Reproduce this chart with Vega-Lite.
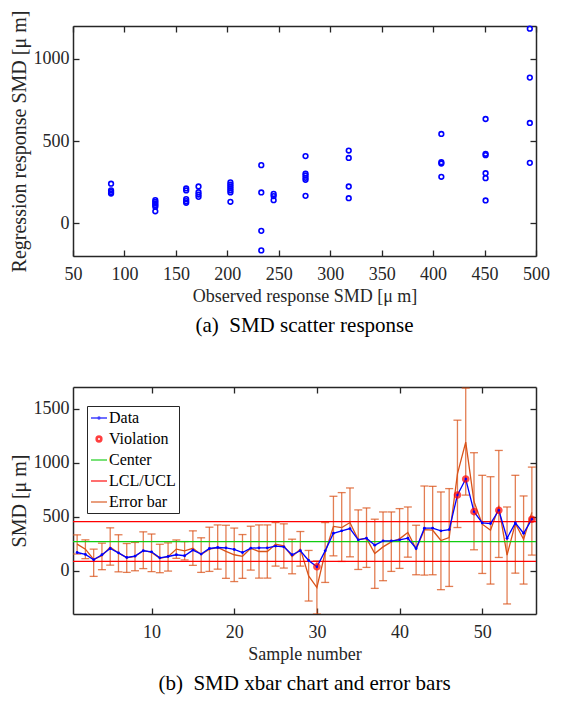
{
  "$schema": "https://vega.github.io/schema/vega-lite/v6.json",
  "padding": {"left": 8, "top": 10, "right": 5, "bottom": 5},
  "spacing": 50,
  "config": {
    "font": "Liberation Serif",
    "view": {"stroke": null},
    "style": {
      "guide-label": {"font": "Liberation Serif"},
      "guide-title": {"font": "Liberation Serif"},
      "group-title": {"font": "Liberation Serif"}
    },
    "axis": {
      "labelFont": "Liberation Serif", "labelFontSize": 18, "labelColor": "#262626", "format": "d",
      "titleFont": "Liberation Serif", "titleFontSize": 19, "titleFontWeight": "normal", "titleColor": "#262626",
      "domainColor": "#262626", "domainWidth": 1.5, "tickColor": "#262626", "tickWidth": 1.3,
      "tickSize": -6, "labelPadding": 10, "grid": false, "labelFlush": false
    },
    "axisBottom": {"labelPadding": 15, "titleFontSize": 18, "titlePadding": 4},
    "axisLeft": {"titleFontSize": 20},
    "legend": {"labelFont": "Liberation Serif"},
    "title": {"font": "Liberation Serif", "fontSize": 21, "fontWeight": "normal", "color": "#000000"}
  },
  "vconcat": [
    {
      "width": 463, "height": 230,
      "title": {"text": "(a)\u00a0\u00a0SMD scatter response", "orient": "bottom", "offset": 10},
      "data": {"values": [
        {"obs": 87, "reg": 240}, {"obs": 87, "reg": 200}, {"obs": 87, "reg": 190}, {"obs": 87, "reg": 180},
        {"obs": 130, "reg": 140}, {"obs": 130, "reg": 130}, {"obs": 130, "reg": 120}, {"obs": 130, "reg": 110}, {"obs": 130, "reg": 100}, {"obs": 130, "reg": 72},
        {"obs": 160, "reg": 211}, {"obs": 160, "reg": 199}, {"obs": 160, "reg": 146}, {"obs": 160, "reg": 134}, {"obs": 160, "reg": 124},
        {"obs": 172, "reg": 223}, {"obs": 172, "reg": 188}, {"obs": 172, "reg": 174}, {"obs": 172, "reg": 160},
        {"obs": 203, "reg": 248}, {"obs": 203, "reg": 235}, {"obs": 203, "reg": 223}, {"obs": 203, "reg": 211}, {"obs": 203, "reg": 199}, {"obs": 203, "reg": 187}, {"obs": 203, "reg": 130},
        {"obs": 233, "reg": 353}, {"obs": 233, "reg": 187}, {"obs": 233, "reg": -47}, {"obs": 233, "reg": -166},
        {"obs": 245, "reg": 178}, {"obs": 245, "reg": 165}, {"obs": 245, "reg": 140},
        {"obs": 276, "reg": 408}, {"obs": 276, "reg": 302}, {"obs": 276, "reg": 290}, {"obs": 276, "reg": 276}, {"obs": 276, "reg": 264}, {"obs": 276, "reg": 166},
        {"obs": 318, "reg": 442}, {"obs": 318, "reg": 397}, {"obs": 318, "reg": 223}, {"obs": 318, "reg": 152},
        {"obs": 408, "reg": 543}, {"obs": 408, "reg": 371}, {"obs": 408, "reg": 363}, {"obs": 408, "reg": 282},
        {"obs": 451, "reg": 634}, {"obs": 451, "reg": 422}, {"obs": 451, "reg": 414}, {"obs": 451, "reg": 304}, {"obs": 451, "reg": 274}, {"obs": 451, "reg": 138},
        {"obs": 494, "reg": 1184}, {"obs": 494, "reg": 886}, {"obs": 494, "reg": 610}, {"obs": 494, "reg": 367}
      ]},
      "layer": [
        {
          "mark": {"type": "point", "shape": "circle", "filled": false, "color": "#0000FF", "size": 22, "strokeWidth": 1.6, "opacity": 1},
          "encoding": {
            "x": {"field": "obs", "type": "quantitative", "scale": {"domain": [50, 500], "nice": false, "zero": false},
                  "axis": {"orient": "bottom", "values": [50, 100, 150, 200, 250, 300, 350, 400, 450, 500], "title": "Observed response SMD [μ m]"}},
            "y": {"field": "reg", "type": "quantitative", "scale": {"domain": [-200, 1200], "nice": false, "zero": false},
                  "axis": {"orient": "left", "values": [0, 500, 1000], "title": "Regression response SMD [μ m]"}}
          }
        },
        {
          "mark": {"type": "point", "opacity": 0},
          "encoding": {
            "x": {"field": "obs", "type": "quantitative", "axis": {"orient": "top", "values": [50, 100, 150, 200, 250, 300, 350, 400, 450, 500], "labels": false, "title": null}},
            "y": {"field": "reg", "type": "quantitative", "axis": {"orient": "right", "values": [0, 500, 1000], "labels": false, "title": null}}
          }
        }
      ],
      "resolve": {"axis": {"x": "independent", "y": "independent"}}
    },
    {
      "width": 463, "height": 227,
      "title": {"text": "(b)\u00a0\u00a0SMD xbar chart and error bars", "orient": "bottom", "offset": 10},
      "data": {"values": [
        {"n": 1, "data": 169, "eb": 246, "lo": 155, "hi": 332, "viol": false},
        {"n": 2, "data": 151, "eb": 200, "lo": 112, "hi": 286, "viol": false},
        {"n": 3, "data": 102, "eb": 105, "lo": -52, "hi": 200, "viol": false},
        {"n": 4, "data": 148, "eb": 140, "lo": 10, "hi": 255, "viol": false},
        {"n": 5, "data": 206, "eb": 218, "lo": 52, "hi": 397, "viol": false},
        {"n": 6, "data": 166, "eb": 165, "lo": -10, "hi": 333, "viol": false},
        {"n": 7, "data": 123, "eb": 120, "lo": -15, "hi": 252, "viol": false},
        {"n": 8, "data": 135, "eb": 132, "lo": 0, "hi": 262, "viol": false},
        {"n": 9, "data": 185, "eb": 188, "lo": 20, "hi": 360, "viol": false},
        {"n": 10, "data": 175, "eb": 170, "lo": -8, "hi": 340, "viol": false},
        {"n": 11, "data": 120, "eb": 115, "lo": -18, "hi": 245, "viol": false},
        {"n": 12, "data": 132, "eb": 130, "lo": -3, "hi": 258, "viol": false},
        {"n": 13, "data": 148, "eb": 200, "lo": 115, "hi": 285, "viol": false},
        {"n": 14, "data": 139, "eb": 185, "lo": 100, "hi": 270, "viol": false},
        {"n": 15, "data": 191, "eb": 208, "lo": 50, "hi": 369, "viol": false},
        {"n": 16, "data": 154, "eb": 150, "lo": -15, "hi": 305, "viol": false},
        {"n": 17, "data": 206, "eb": 200, "lo": -6, "hi": 403, "viol": false},
        {"n": 18, "data": 215, "eb": 215, "lo": 15, "hi": 424, "viol": false},
        {"n": 19, "data": 212, "eb": 180, "lo": -70, "hi": 421, "viol": false},
        {"n": 20, "data": 197, "eb": 148, "lo": -100, "hi": 395, "viol": false},
        {"n": 21, "data": 169, "eb": 134, "lo": -70, "hi": 335, "viol": false},
        {"n": 22, "data": 209, "eb": 208, "lo": 6, "hi": 412, "viol": false},
        {"n": 23, "data": 212, "eb": 178, "lo": -68, "hi": 424, "viol": false},
        {"n": 24, "data": 212, "eb": 178, "lo": -68, "hi": 424, "viol": false},
        {"n": 25, "data": 228, "eb": 245, "lo": 43, "hi": 446, "viol": false},
        {"n": 26, "data": 221, "eb": 230, "lo": 25, "hi": 434, "viol": false},
        {"n": 27, "data": 148, "eb": 132, "lo": -28, "hi": 292, "viol": false},
        {"n": 28, "data": 185, "eb": 200, "lo": 43, "hi": 363, "viol": false},
        {"n": 29, "data": 95, "eb": -47, "lo": -280, "hi": 188, "viol": false},
        {"n": 30, "data": 37, "eb": -155, "lo": -400, "hi": 90, "viol": true},
        {"n": 31, "data": 184, "eb": 169, "lo": -108, "hi": 446, "viol": false},
        {"n": 32, "data": 347, "eb": 410, "lo": 138, "hi": 689, "viol": false},
        {"n": 33, "data": 369, "eb": 400, "lo": 86, "hi": 723, "viol": false},
        {"n": 34, "data": 390, "eb": 446, "lo": 129, "hi": 766, "viol": false},
        {"n": 35, "data": 286, "eb": 287, "lo": 12, "hi": 563, "viol": false},
        {"n": 36, "data": 301, "eb": 300, "lo": 31, "hi": 581, "viol": false},
        {"n": 37, "data": 237, "eb": 160, "lo": -163, "hi": 477, "viol": false},
        {"n": 38, "data": 277, "eb": 221, "lo": -92, "hi": 544, "viol": false},
        {"n": 39, "data": 277, "eb": 267, "lo": -6, "hi": 544, "viol": false},
        {"n": 40, "data": 286, "eb": 295, "lo": 22, "hi": 575, "viol": false},
        {"n": 41, "data": 301, "eb": 355, "lo": 126, "hi": 590, "viol": false},
        {"n": 42, "data": 206, "eb": 200, "lo": -37, "hi": 421, "viol": false},
        {"n": 43, "data": 394, "eb": 380, "lo": -40, "hi": 784, "viol": false},
        {"n": 44, "data": 394, "eb": 375, "lo": -37, "hi": 781, "viol": false},
        {"n": 45, "data": 369, "eb": 280, "lo": -175, "hi": 729, "viol": false},
        {"n": 46, "data": 381, "eb": 307, "lo": -145, "hi": 760, "viol": false},
        {"n": 47, "data": 701, "eb": 897, "lo": 400, "hi": 1393, "viol": true},
        {"n": 48, "data": 849, "eb": 1190, "lo": 700, "hi": 1690, "viol": true},
        {"n": 49, "data": 547, "eb": 640, "lo": 194, "hi": 1092, "viol": true},
        {"n": 50, "data": 443, "eb": 431, "lo": -25, "hi": 883, "viol": false},
        {"n": 51, "data": 437, "eb": 375, "lo": -123, "hi": 870, "viol": false},
        {"n": 52, "data": 560, "eb": 590, "lo": 123, "hi": 1113, "viol": true},
        {"n": 53, "data": 301, "eb": 145, "lo": -307, "hi": 590, "viol": false},
        {"n": 54, "data": 443, "eb": 437, "lo": -22, "hi": 883, "viol": false},
        {"n": 55, "data": 347, "eb": 290, "lo": -123, "hi": 692, "viol": false},
        {"n": 56, "data": 477, "eb": 540, "lo": 145, "hi": 959, "viol": true}
      ]},
      "layer": [
        {
          "encoding": {
            "x": {"field": "n", "type": "quantitative", "scale": {"domain": [0.5, 56.5], "nice": false, "zero": false},
                  "axis": {"orient": "bottom", "values": [10, 20, 30, 40, 50], "title": "Sample number"}}
          },
          "layer": [
            {
              "mark": {"type": "rule", "strokeWidth": 1.3, "opacity": 0.75, "clip": true},
              "encoding": {
                "y": {"field": "lo", "type": "quantitative", "scale": {"domain": [-400, 1700], "nice": false, "zero": false},
                      "axis": {"orient": "left", "values": [0, 500, 1000, 1500], "title": "SMD [μ m]"}},
                "y2": {"field": "hi"},
                "color": {"datum": "Error bar", "type": "nominal",
                          "scale": {"domain": ["Data", "Violation", "Center", "LCL/UCL", "Error bar"], "range": ["#0000FF", "#FF0000", "#11CC11", "#FF0000", "#D95319"]},
                          "legend": {
                            "title": null, "orient": "none", "legendX": 14, "legendY": 380, "direction": "vertical",
                            "strokeColor": "#262626", "fillColor": "#FFFFFF", "padding": 3, "rowPadding": 4,
                            "labelFont": "Liberation Serif", "labelFontSize": 16, "labelColor": "#000000", "labelOffset": 1,
                            "symbolSize": 256, "symbolStrokeWidth": 1.5, "symbolFillColor": "transparent"
                          }}
              }
            },
            {
              "mark": {"type": "tick", "orient": "horizontal", "size": 8, "thickness": 1.3, "opacity": 0.75, "clip": true},
              "encoding": {"y": {"field": "hi", "type": "quantitative"}, "color": {"datum": "Error bar", "type": "nominal", "legend": null}}
            },
            {
              "mark": {"type": "tick", "orient": "horizontal", "size": 8, "thickness": 1.3, "opacity": 0.75, "clip": true},
              "encoding": {"y": {"field": "lo", "type": "quantitative"}, "color": {"datum": "Error bar", "type": "nominal", "legend": null}}
            },
            {
              "mark": {"type": "line", "strokeWidth": 1.3, "clip": true},
              "encoding": {"y": {"field": "eb", "type": "quantitative"}, "color": {"datum": "Error bar", "type": "nominal", "legend": null}}
            },
            {
              "data": {"values": [{"level": "Center", "v": 270}]},
              "mark": {"type": "rule", "strokeWidth": 1.4},
              "encoding": {"x": null, "y": {"field": "v", "type": "quantitative"}, "color": {"datum": "Center", "type": "nominal", "legend": null}}
            },
            {
              "data": {"values": [{"level": "LCL", "v": 87}, {"level": "UCL", "v": 455}]},
              "mark": {"type": "rule", "strokeWidth": 1.4},
              "encoding": {"x": null, "y": {"field": "v", "type": "quantitative"}, "color": {"datum": "LCL/UCL", "type": "nominal", "legend": null}}
            },
            {
              "mark": {"type": "line", "strokeWidth": 1.3, "clip": true, "point": {"filled": true, "size": 8}},
              "encoding": {"y": {"field": "data", "type": "quantitative"}, "color": {"datum": "Data", "type": "nominal", "legend": null}}
            },
            {
              "transform": [{"filter": "datum.viol"}],
              "mark": {"type": "point", "filled": false, "size": 300, "strokeWidth": 1.4},
              "encoding": {
                "y": {"field": "data", "type": "quantitative"},
                "color": {"datum": "Violation", "type": "nominal", "legend": null},
                "shape": {"datum": "Violation", "type": "nominal",
                          "scale": {"domain": ["Data", "Violation", "Center", "LCL/UCL", "Error bar"],
                                    "range": ["M-1,0L1,0M-0.12,0A0.12,0.12 0 1,0 0.12,0A0.12,0.12 0 1,0 -0.12,0",
                                              "M-0.36,0A0.36,0.36 0 1,0 0.36,0A0.36,0.36 0 1,0 -0.36,0ZM-0.22,0A0.22,0.22 0 1,1 0.22,0A0.22,0.22 0 1,1 -0.22,0Z",
                                              "M-1,0L1,0", "M-1,0L1,0", "M-1,0L1,0"]},
                          "legend": {"title": null, "orient": "none", "legendX": 14, "legendY": 380}}
              }
            }
          ]
        },
        {
          "mark": {"type": "point", "opacity": 0},
          "encoding": {
            "x": {"field": "n", "type": "quantitative", "axis": {"orient": "top", "values": [10, 20, 30, 40, 50], "labels": false, "title": null}},
            "y": {"field": "data", "type": "quantitative", "axis": {"orient": "right", "values": [0, 500, 1000, 1500], "labels": false, "title": null}}
          }
        }
      ],
      "resolve": {"axis": {"x": "independent", "y": "independent"}}
    }
  ]
}
